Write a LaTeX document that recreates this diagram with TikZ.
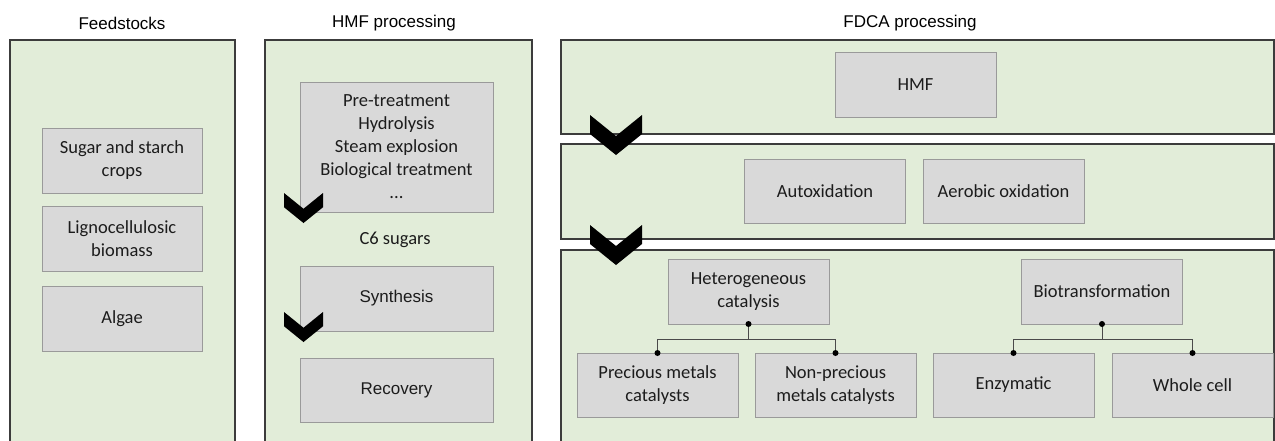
\documentclass[tikz,border=0pt]{standalone}
\usepackage{fontspec}
\setmainfont{Carlito}
\newfontfamily\arialf{Liberation Sans}
\definecolor{panelgreen}{HTML}{E2EDD9}
\definecolor{panelline}{HTML}{3C3C3C}
\definecolor{boxgray}{HTML}{D9D9D9}
\definecolor{boxline}{HTML}{9A9A9A}
\definecolor{boxtext}{HTML}{1C1C1C}
\definecolor{connline}{HTML}{4A4A4A}
\begin{document}
\begin{tikzpicture}[x=1pt,y=-1pt,
  panel/.style={draw=panelline, line width=1.6pt, fill=panelgreen},
  box/.style={draw=boxline, line width=0.9pt, fill=boxgray, minimum width=161pt,
    minimum height=65pt, inner sep=2pt, outer sep=0pt, align=center, text=boxtext,
    font=\fontsize{18.5}{23}\selectfont},
  abox/.style={box, font=\arialf\fontsize{17}{20}\selectfont},
  title/.style={font=\arialf\fontsize{17}{20}\selectfont, text=black},
  plain/.style={text=boxtext, font=\fontsize{18.5}{23}\selectfont},
  conn/.style={draw=connline, line width=0.9pt},
  dot/.style={circle, fill=black, inner sep=0pt, minimum size=6pt},
  chevron/.pic={\fill[black] (0,0) -- (26,21) -- (52,0) -- (52,19) -- (26,40) -- (0,19) -- cycle;}
]
\useasboundingbox (0,0) rectangle (1275,440);
\fill[white] (0,0) rectangle (1275,440);

% titles
\node[title] (tfeed) at (122,23) {Feedstocks};
\node[title] (thmf) at (394,23) {HMF processing};
\node[title] (tfdca) at (910,23) {FDCA processing};

% panels
\draw[panel] (10,40) rectangle (235,450);
\draw[panel] (265,40) rectangle (532,450);
\draw[panel] (561,40) rectangle (1274,134);
\draw[panel] (561,144) rectangle (1274,239);
\draw[panel] (561,250) rectangle (1274,450);

% feedstocks
\node[box, minimum width=160pt] (sugar) at (122,160.5) {Sugar and starch\\crops};
\node[box, minimum width=160pt] (ligno) at (122,238.5) {Lignocellulosic\\biomass};
\node[box, minimum width=160pt] (algae) at (122,318.5) {Algae};

% HMF processing
\node[box, minimum width=193pt, minimum height=130pt] (pre) at (396.5,147)
  {Pre-treatment\\Hydrolysis\\Steam explosion\\Biological treatment\\...};
\node[plain] (c6) at (395,240) {C6 sugars};
\node[abox, minimum width=193pt] (synth) at (396.5,298.5) {Synthesis};
\node[abox, minimum width=193pt, minimum height=64pt] (recov) at (396.5,390) {Recovery};

% FDCA processing
\node[box] (hmf) at (915.5,84.5) {HMF};
\node[box, minimum height=64pt] (autox) at (825,191) {Autoxidation};
\node[box, minimum height=64pt] (aerob) at (1003.5,191) {Aerobic oxidation};
\node[box] (het) at (748.5,291.5) {Heterogeneous\\catalysis};
\node[box] (bio) at (1102,291.5) {Biotransformation};
\node[box, minimum height=64pt] (prec) at (657.5,385) {Precious metals\\catalysts};
\node[box, minimum height=64pt] (nonp) at (835.5,385) {Non-precious\\metals catalysts};
\node[box, minimum height=64pt] (enz) at (1013.5,385) {Enzymatic};
\node[box, minimum height=64pt] (whole) at (1192.5,385) {Whole cell};

% connectors
\draw[conn] (het.south) -- ++(0,15) coordinate (hj);
\draw[conn] (hj) -| (prec.north);
\draw[conn] (hj) -| (nonp.north);
\draw[conn] (bio.south) -- ++(0,15) coordinate (bj);
\draw[conn] (bj) -| (enz.north);
\draw[conn] (bj) -| (whole.north);
\node[dot] (d1) at (het.south) {};
\node[dot] (d2) at (prec.north) {};
\node[dot] (d3) at (nonp.north) {};
\node[dot] (d4) at (bio.south) {};
\node[dot] (d5) at (enz.north) {};
\node[dot] (d6) at (whole.north) {};

% chevrons
\pic at (590,115) {chevron};
\pic at (590,225) {chevron};
\pic[scale=0.75] at (284,193) {chevron};
\pic[scale=0.75] at (284,312) {chevron};
\end{tikzpicture}
\end{document}
